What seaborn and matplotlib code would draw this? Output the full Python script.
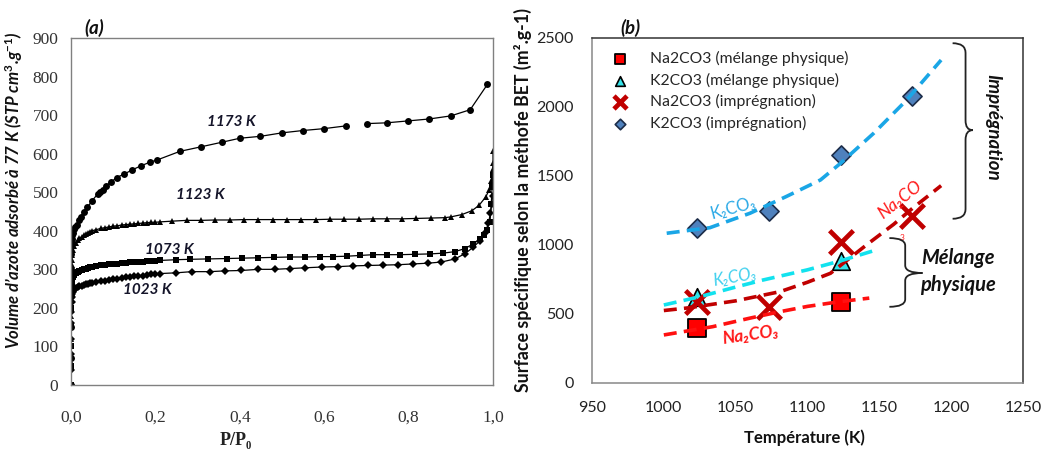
import numpy as np
import pandas as pd
import matplotlib
matplotlib.use("Agg")
import matplotlib.pyplot as plt
from matplotlib.path import Path
from matplotlib.patches import PathPatch
import seaborn as sns

# ---------------- data: panel (a) N2 isotherms ----------------
P_1023 = [0.0, 0.0002, 0.0004, 0.0006, 0.0008, 0.001, 0.0015, 0.002, 0.003, 0.005, 0.008, 0.012,
          0.016, 0.02, 0.025, 0.03, 0.035, 0.04, 0.045, 0.05, 0.06, 0.07, 0.08, 0.09, 0.10, 0.11,
          0.12, 0.13, 0.14, 0.15, 0.16, 0.17, 0.18, 0.19, 0.20, 0.21, 0.25, 0.286, 0.329, 0.365,
          0.404, 0.444, 0.483, 0.519, 0.555, 0.594, 0.633, 0.669, 0.705, 0.740, 0.776, 0.811,
          0.847, 0.878, 0.91, 0.934, 0.953, 0.969, 0.981, 0.989, 0.994, 0.997, 0.999]
V_1023 = [0, 40, 80, 120, 160, 190, 215, 228, 236, 242, 247, 251,
          254, 256, 258, 260, 262, 263, 264, 265, 267, 269, 270, 272, 274, 275,
          277, 279, 280, 282, 283, 284, 286, 287, 288, 289, 291, 294, 294, 296,
          297, 300, 300, 302, 304, 306, 307, 309, 310, 311, 312, 314,
          316, 319, 327, 341, 357, 374, 393, 419, 445, 470, 490]

P_1073 = [0.0, 0.0002, 0.0004, 0.0006, 0.0008, 0.001, 0.0015, 0.002, 0.003, 0.005, 0.008, 0.012,
          0.016, 0.02, 0.025, 0.03, 0.035, 0.04, 0.045, 0.05, 0.06, 0.07, 0.08, 0.09, 0.10, 0.11,
          0.12, 0.13, 0.14, 0.15, 0.16, 0.17, 0.18, 0.19, 0.20, 0.21, 0.25, 0.282, 0.325, 0.369,
          0.405, 0.444, 0.48, 0.519, 0.555, 0.59, 0.62, 0.653, 0.685, 0.716, 0.748, 0.78, 0.815,
          0.851, 0.882, 0.91, 0.934, 0.953, 0.969, 0.978, 0.985, 0.993, 0.996, 0.998, 0.999]
V_1073 = [0, 50, 100, 150, 200, 235, 255, 265, 272, 279, 285, 290,
          293, 295, 298, 300, 302, 304, 305, 306, 308, 310, 312, 313, 314, 315,
          316, 317, 318, 319, 320, 320, 321, 322, 322, 323, 325, 326, 327, 328,
          329, 330, 331, 332, 332, 333, 333, 334, 336, 338, 338, 338, 339,
          340, 342, 346, 354, 366, 378, 390, 402, 424, 470, 514, 545]

P_1123 = [0.0, 0.0002, 0.0004, 0.0006, 0.0008, 0.001, 0.0015, 0.002, 0.003, 0.005, 0.008, 0.012,
          0.016, 0.02, 0.025, 0.03, 0.035, 0.04, 0.045, 0.05, 0.06, 0.07, 0.08, 0.09, 0.10, 0.11,
          0.12, 0.13, 0.14, 0.15, 0.16, 0.17, 0.18, 0.19, 0.20, 0.21, 0.24, 0.274, 0.308, 0.342,
          0.376, 0.41, 0.444, 0.478, 0.512, 0.546, 0.58, 0.614, 0.648, 0.682, 0.716, 0.75, 0.784,
          0.818, 0.852, 0.886, 0.9, 0.926, 0.95, 0.967, 0.983, 0.991, 0.996, 0.999, 1.0, 1.0]
V_1123 = [0, 60, 120, 180, 240, 280, 310, 325, 338, 350, 360, 369,
          375, 380, 385, 389, 392, 395, 398, 400, 403, 406, 408, 410, 412, 413,
          415, 416, 417, 418, 419, 420, 421, 422, 422, 423, 425, 427, 427, 428,
          428, 429, 429, 429, 429, 429, 429, 430, 430, 430, 431, 431, 431,
          432, 433, 434, 436, 442, 452, 466, 488, 506, 530, 560, 575, 608]

P_1173a = [0.0, 0.0002, 0.0004, 0.0006, 0.0008, 0.001, 0.0015, 0.002, 0.003, 0.004, 0.006, 0.009,
           0.0135, 0.018, 0.024, 0.03, 0.039, 0.05, 0.063, 0.069, 0.075, 0.083, 0.096, 0.108,
           0.126, 0.145, 0.165, 0.187, 0.205, 0.258, 0.309, 0.359, 0.40, 0.449, 0.50, 0.549,
           0.60, 0.651]
V_1173a = [0, 70, 150, 230, 300, 340, 365, 378, 388, 395, 405, 410,
           416, 428, 437, 450, 461, 478, 495, 501, 507, 517, 527, 538,
           547, 558, 568, 578, 584, 606, 618, 630, 640, 645, 654, 660,
           665, 672]
P_1173b = [0.701, 0.748, 0.799, 0.849, 0.90, 0.946, 0.987]
V_1173b = [678, 680, 685, 690, 698, 714, 780]

ISO_LABELS = ["1023 K", "1073 K", "1123 K", "1173 K"]
ISO_LABEL_P = [0.182, 0.232, 0.306, 0.381]
ISO_LABEL_V = [246, 350, 493, 682]

X_TICKS_A = [0.0, 0.2, 0.4, 0.6, 0.8, 1.0]
X_TICK_LABELS_A = ["0,0", "0,2", "0,4", "0,6", "0,8", "1,0"]
Y_TICKS_A = [0, 100, 200, 300, 400, 500, 600, 700, 800, 900]

# ---------------- data: panel (b) BET surface ----------------
T_NA_PHYS = [1023, 1123]
S_NA_PHYS = [398, 588]
T_K_PHYS = [1023, 1123]
S_K_PHYS = [622, 882]
T_NA_IMP = [1023, 1073, 1123, 1173]
S_NA_IMP = [585, 553, 1025, 1208]
T_K_IMP = [1023, 1073, 1123, 1173]
S_K_IMP = [1125, 1243, 1650, 2077]

# hand-drawn trend curves
TR_T_K_IMP = [1002, 1032, 1060, 1085, 1109, 1123, 1146, 1169, 1193]
TR_S_K_IMP = [1085, 1125, 1230, 1350, 1471, 1592, 1809, 2050, 2340]
TR_T_NA_IMP = [1000, 1016, 1050, 1081, 1100, 1116, 1141, 1160, 1173, 1193]
TR_S_NA_IMP = [525, 543, 595, 662, 730, 795, 1000, 1150, 1265, 1430]
TR_T_K_PHYS = [1000, 1025, 1050, 1069, 1100, 1123, 1145]
TR_S_K_PHYS = [565, 625, 695, 746, 820, 885, 955]
TR_T_NA_PHYS = [1000, 1034, 1060, 1081, 1100, 1123, 1143]
TR_S_NA_PHYS = [348, 408, 470, 517, 555, 590, 615]

LEG_LABELS = ["Na2CO3 (mélange physique)", "K2CO3 (mélange physique)",
              "Na2CO3 (imprégnation)", "K2CO3 (imprégnation)"]
X_TICKS_B = [950, 1000, 1050, 1100, 1150, 1200, 1250]
Y_TICKS_B = [0, 500, 1000, 1500, 2000, 2500]

# ---------------- style ----------------
sns.set_theme(style="white")
plt.rcParams["font.family"] = ["Lato", "DejaVu Sans"]
plt.rcParams["mathtext.fontset"] = "custom"
plt.rcParams["mathtext.rm"] = "Lato:bold"
plt.rcParams["mathtext.it"] = "Lato:bold:italic"
plt.rcParams["mathtext.bf"] = "Lato:bold"

fig = plt.figure(figsize=(10.5, 4.58), dpi=100)
axA = fig.add_axes([0.0676, 0.1594, 0.4019, 0.7576])
axB = fig.add_axes([0.5638, 0.1638, 0.4105, 0.7533])

# ---------------- panel (a) ----------------
iso = [(P_1023, V_1023, "D", 3.6), (P_1073, V_1073, "s", 4.2),
       (P_1123, V_1123, "^", 5.0), (P_1173a, V_1173a, "o", 5.0),
       (P_1173b, V_1173b, "o", 5.0)]
for px, vy, mk, ms in iso:
    sns.lineplot(x=px, y=vy, ax=axA, color="black", linewidth=0.9, marker=mk,
                 markersize=ms, markeredgewidth=0, sort=False, estimator=None)

axA.set_xlim(0, 1.0)
axA.set_ylim(0, 900)
axA.set_xticks(X_TICKS_A)
axA.set_xticklabels(X_TICK_LABELS_A)
axA.set_yticks(Y_TICKS_A)
axA.tick_params(axis="x", direction="in", length=5, width=0.8, color="#777777",
                pad=18, labelsize=12.5, labelcolor="#333333")
axA.tick_params(axis="y", direction="in", length=5, width=0.8, color="#777777",
                pad=9, labelsize=12.5, labelcolor="#333333")
for lab in axA.get_xticklabels() + axA.get_yticklabels():
    lab.set_family(["Liberation Serif", "DejaVu Serif"])
for s in axA.spines.values():
    s.set_color("#808080")
    s.set_linewidth(1.0)

for lab, p, v in zip(ISO_LABELS, ISO_LABEL_P, ISO_LABEL_V):
    axA.text(p, v, lab, ha="center", va="center", fontsize=11, fontweight="bold",
             fontstyle="italic", color="#15152a")

axA.set_xlabel("P/P₀", family=["Liberation Serif", "DejaVu Serif"], fontweight="bold",
               fontsize=13, color="#222222")
axA.xaxis.set_label_coords(0.39, -0.135)
axA.set_ylabel("Volume d’azote adsorbé à 77 K (STP cm$^3$.g$^{-1}$)", fontsize=12,
               fontweight="bold", fontstyle="italic", color="#111111")
axA.yaxis.set_label_coords(-0.11, 0.56)
axA.text(0.055, 1.03, "(a)", transform=axA.transAxes, ha="center", va="center",
         fontsize=13.5, fontweight="bold", fontstyle="italic", color="#111111")

# ---------------- panel (b) ----------------
dash = (0, (3.6, 2.0))
trends = [(TR_T_K_IMP, TR_S_K_IMP, "#1aa6e6"), (TR_T_NA_IMP, TR_S_NA_IMP, "#c00000"),
          (TR_T_K_PHYS, TR_S_K_PHYS, "#12e2ee"), (TR_T_NA_PHYS, TR_S_NA_PHYS, "#ff1010")]
for tx, sy, col in trends:
    sns.lineplot(x=tx, y=sy, ax=axB, color=col, linewidth=2.6, linestyle=dash,
                 sort=False, estimator=None, zorder=4)

sns.scatterplot(x=T_K_PHYS, y=S_K_PHYS, ax=axB, marker="^", s=160, color="#33e4ea",
                edgecolor="black", linewidth=1.2, zorder=2, label=LEG_LABELS[1])
sns.scatterplot(x=T_NA_PHYS, y=S_NA_PHYS, ax=axB, marker="s", s=150, color="#ff0000",
                edgecolor="black", linewidth=1.3, zorder=3, label=LEG_LABELS[0])
sns.scatterplot(x=T_NA_IMP, y=S_NA_IMP, ax=axB, marker="x", s=290, color="#c00000",
                linewidth=3.4, zorder=3, label=LEG_LABELS[2])
sns.scatterplot(x=T_K_IMP, y=S_K_IMP, ax=axB, marker="D", s=95, color="#4f81bd",
                edgecolor="#1c2c48", linewidth=1.2, zorder=3, label=LEG_LABELS[3])

axB.set_xlim(950, 1250)
axB.set_ylim(0, 2500)
axB.set_xticks(X_TICKS_B)
axB.set_yticks(Y_TICKS_B)
axB.tick_params(axis="both", direction="out", length=4, width=0.8, color="#888888",
                labelsize=11.5, labelcolor="#222222")
axB.tick_params(axis="x", pad=9)
axB.tick_params(axis="y", pad=9)
axB.spines["left"].set_color("#888888")
axB.spines["bottom"].set_color("#888888")
axB.spines["top"].set_color("#333333")
axB.spines["right"].set_color("#333333")
for s in axB.spines.values():
    s.set_linewidth(1.1)

handles, labels = axB.get_legend_handles_labels()
order = [labels.index(l) for l in LEG_LABELS]
axB.legend([handles[i] for i in order], [labels[i] for i in order], loc="upper left",
           bbox_to_anchor=(0.013, 1.003), frameon=False, fontsize=11.3, handlelength=1.0,
           handletextpad=1.45, labelspacing=0.42, markerscale=0.55)

axB.set_xlabel("Température (K)", fontsize=12, fontweight="bold", color="#111111")
axB.xaxis.set_label_coords(0.494, -0.135)
axB.set_ylabel("Surface spécifique selon la méthofe BET (m².g-1)", fontsize=12.8,
               fontweight="bold", color="#111111")
axB.yaxis.set_label_coords(-0.139, 0.53)
axB.text(0.09, 1.03, "(b)", transform=axB.transAxes, ha="center", va="center",
         fontsize=13.5, fontweight="bold", fontstyle="italic", color="#111111")

# curve labels
axB.text(1048, 1268, "K₂CO₃", color="#2aa9e6", fontsize=12, rotation=15,
         ha="center", va="center", family=["Lato", "DejaVu Sans"])
axB.text(1049.5, 768, "K₂CO₃", color="#3fd0ee", fontsize=12, rotation=10,
         ha="center", va="center", fontstyle="italic", family=["Lato", "DejaVu Sans"])
axB.text(1164, 1326, "Na₂CO", color="#ff1a1a", fontsize=12.5, rotation=38,
         ha="center", va="center", fontstyle="italic", family=["Lato", "DejaVu Sans"])
axB.text(1060.5, 348, "Na₂CO₃", color="#ff1a1a", fontsize=12.5, rotation=8,
         ha="center", va="center", fontstyle="italic", fontweight="bold",
         family=["Lato", "DejaVu Sans"])
axB.text(1165.7, 1051, "3", color="#ff1a1a", fontsize=6, ha="center", va="center")

axB.text(1205, 906, "Mélange", fontsize=14.5, fontweight="bold", fontstyle="italic",
         ha="center", va="center", color="#111111")
axB.text(1205, 710, "physique", fontsize=14.5, fontweight="bold", fontstyle="italic",
         ha="center", va="center", color="#111111")
axB.text(1229, 1855, "Imprégnation", fontsize=13.5, fontweight="bold", fontstyle="italic",
         ha="center", va="center", rotation=-90, color="#111111")


def brace(ax, x_left, x_vert, x_tip, y_top, y_mid, y_bot, r):
    verts = [(x_left, y_top), (x_vert, y_top), (x_vert, y_top - r),
             (x_vert, y_mid + r), (x_vert, y_mid), (x_tip, y_mid),
             (x_vert, y_mid), (x_vert, y_mid - r),
             (x_vert, y_bot + r), (x_vert, y_bot), (x_left, y_bot)]
    codes = [Path.MOVETO, Path.CURVE3, Path.CURVE3,
             Path.LINETO, Path.CURVE3, Path.CURVE3,
             Path.CURVE3, Path.CURVE3,
             Path.LINETO, Path.CURVE3, Path.CURVE3]
    ax.add_patch(PathPatch(Path(verts, codes), fill=False, edgecolor="#222222",
                           linewidth=1.3, clip_on=False, zorder=5))


brace(axB, 1201, 1210, 1215, 2462, 1832, 1190, 70)
brace(axB, 1157, 1168, 1180, 1050, 797, 552, 55)

fig.savefig("out.png", dpi=100)
